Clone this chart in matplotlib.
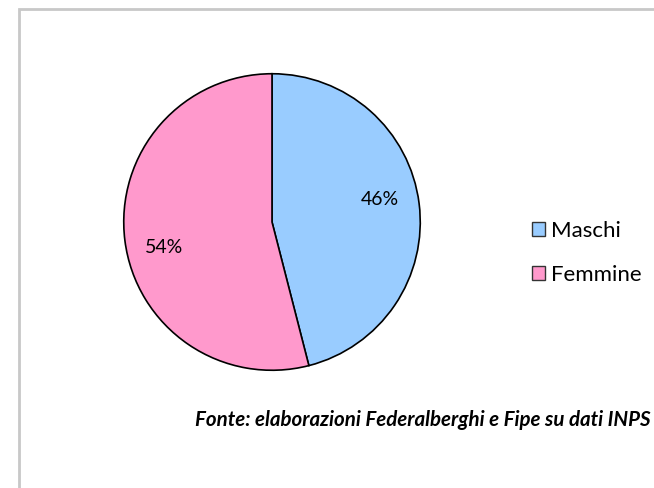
import matplotlib.pyplot as plt
from matplotlib.patches import Rectangle

labels = ["Maschi", "Femmine"]
values = [46, 54]
colors = ["#99CCFF", "#FF99CC"]
source = "Fonte: elaborazioni Federalberghi e Fipe su dati INPS"

plt.rcParams['font.family'] = ['Lato', 'DejaVu Sans']

fig = plt.figure(figsize=(6.54, 4.88), dpi=100)

# outer chart border (only left/top visible in the crop)
fig.patches.append(Rectangle((19 / 654, -0.1), 1.0, (488 - 9) / 488 + 0.1,
                             transform=fig.transFigure, fill=False,
                             edgecolor="#c8c8c8", linewidth=2))

ax = fig.add_axes([123 / 654, 117 / 488, 298 / 654, 298 / 488])
wedges, texts, autotexts = ax.pie(
    values, colors=colors, startangle=90, counterclock=False,
    autopct=lambda p: f"{p:.0f}%", pctdistance=0.74,
    wedgeprops=dict(edgecolor="black", linewidth=1.2),
    textprops=dict(fontsize=14, color="black"))
# Excel-style label placement
autotexts[0].set_position((0.725, 0.15))
autotexts[1].set_position((-0.73, -0.175))
ax.set_xlim(-1.005, 1.005)
ax.set_ylim(-1.005, 1.005)
ax.set_aspect("equal")

handles = [Rectangle((0, 0), 1, 1, facecolor=c, edgecolor="#333333", linewidth=1) for c in colors]
fig.legend(handles, labels, loc="center left", bbox_to_anchor=(512 / 654, 1 - 253 / 488),
           frameon=False, fontsize=16, handlelength=0.6, handleheight=0.6,
           handletextpad=0.25, labelspacing=1.1)

fig.text(651 / 654, 1 - 420 / 488, source, ha="right", va="center",
         fontsize=14.8, fontweight="bold", fontstyle="italic")

fig.savefig("out.png", dpi=100)
